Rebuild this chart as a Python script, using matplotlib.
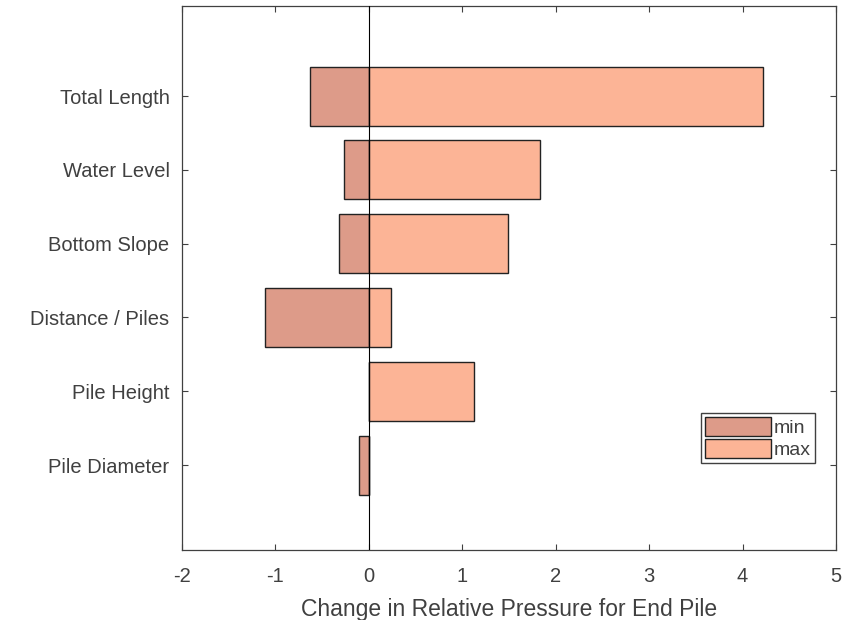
import numpy as np
import matplotlib.pyplot as plt

plt.rcParams['font.family'] = ['Liberation Sans', 'DejaVu Sans']
plt.rcParams['axes.unicode_minus'] = False

params = ['Pile Diameter', 'Pile Height', 'Distance / Piles',
          'Bottom Slope', 'Water Level', 'Total Length']
low = [-0.11, 0.01, -1.11, -0.32, -0.27, -0.63]
high = [0.0, 1.13, 0.24, 1.49, 1.83, 4.22]
xticks = [-2, -1, 0, 1, 2, 3, 4, 5]

c_min = '#dd9b89'
c_max = '#fcb496'
grey = '#404040'

fig = plt.figure(figsize=(8.59, 6.20), dpi=100)
ax = fig.add_axes([0.2119, 0.1129, 0.7613, 0.8774])

y = np.arange(1, len(params) + 1)
ax.barh(y, low, height=0.8, color=c_min, edgecolor='#222222', linewidth=1.0, label='min')
ax.barh(y, high, height=0.8, color=c_max, edgecolor='#222222', linewidth=1.0, label='max')
ax.axvline(0, color='black', linewidth=0.8, zorder=5)

ax.set_xlim(-2, 5)
ax.set_ylim(-0.15, 7.22)
ax.set_yticks(y)
ax.set_yticklabels(params)
ax.set_xticks(xticks)
ax.set_xticklabels([str(v) for v in xticks])
ax.tick_params(direction='in', length=4, width=0.8, color=grey,
               labelcolor=grey, labelsize=14.5, top=True, right=True)
ax.tick_params(axis='y', pad=9)
ax.tick_params(axis='x', pad=12)
for s in ax.spines.values():
    s.set_color(grey)
    s.set_linewidth(0.9)
ax.set_xlabel('Change in Relative Pressure for End Pile', fontsize=16.5, color=grey, labelpad=9)

leg = ax.legend(loc='lower right', bbox_to_anchor=(0.968, 0.16), fontsize=14,
                handlelength=3.4, handleheight=1.1, handletextpad=0.15,
                labelspacing=0.1, borderpad=0.2, borderaxespad=0,
                fancybox=False, framealpha=1, edgecolor=grey)
for t in leg.get_texts():
    t.set_color(grey)

fig.savefig('out.png', dpi=100)
